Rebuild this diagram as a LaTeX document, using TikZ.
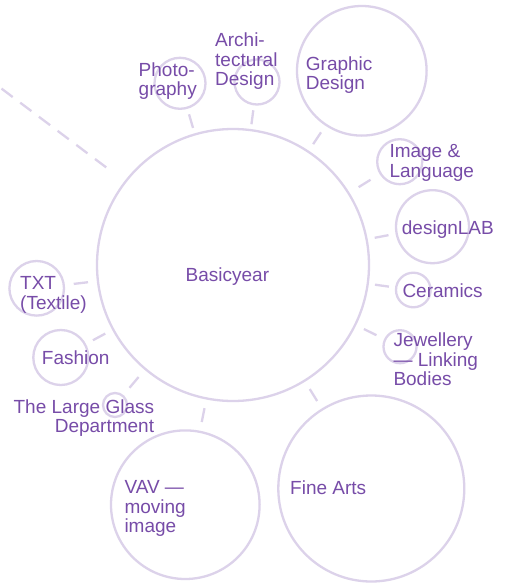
\documentclass[tikz,border=0pt]{standalone}
\usepackage{fontspec}
\setmainfont{Liberation Sans}
\definecolor{ringcol}{HTML}{DCD2EA}
\definecolor{textcol}{HTML}{774CA8}
\begin{document}
\begin{tikzpicture}[x=1pt,y=-1pt,
  bubble/.style={circle,draw=ringcol,line width=2.3pt,inner sep=0,outer sep=0,minimum size=#1},
  lbl/.style={anchor=north west,inner sep=0,align=left,text=textcol,font=\fontsize{19}{19.5}\selectfont},
  spoke/.style={draw=ringcol,line width=2.3pt,shorten <=#1,shorten >=#1}]
  \fill[white] (0,0) rectangle (506,584);
  \useasboundingbox (0,0) rectangle (506,584);

  % Define nodes
  \node (base) [bubble=272pt] at (233,265) {};
  \node (photo) [bubble=51pt] at (180,83.3) {};
  \node (arch) [bubble=45pt] at (257,82) {};
  \node (graphic) [bubble=129.6pt] at (361.8,70.8) {};
  \node (imglang) [bubble=45pt] at (399.7,161.7) {};
  \node (designlab) [bubble=73pt] at (432.5,226.7) {};
  \node (ceramics) [bubble=34.6pt] at (413.3,290) {};
  \node (jewel) [bubble=33pt] at (400,346.7) {};
  \node (finearts) [bubble=186pt] at (371.3,488.5) {};
  \node (vav) [bubble=148.6pt] at (185.3,504.7) {};
  \node (textile) [bubble=54.6pt] at (36.7,288.3) {};
  \node (fashion) [bubble=55pt] at (60.8,357.5) {};
  \node (glass) [bubble=24pt] at (115,405) {};
  \coordinate (fadeA) at (1.5,88.6);
  \coordinate (fadeB) at (107,168);

  % Labels
  \node (baseLabel) [lbl] at (185.5,267.3) {Basicyear};
  \node (photoLabel) [lbl] at (138.5,62.3) {Photo-\\graphy};
  \node (archLabel) [lbl] at (215,32.8) {Archi-\\tectural\\Design};
  \node (graphicLabel) [lbl] at (305.7,56.3) {Graphic\\Design};
  \node (imglangLabel) [lbl] at (389.3,144.3) {Image \&\\Language};
  \node (designlabLabel) [lbl] at (401.7,220.3) {designLAB};
  \node (ceramicsLabel) [lbl] at (402.3,283.8) {Ceramics};
  \node (jewelLabel) [lbl] at (393.3,332.8) {Jewellery\\— Linking\\Bodies};
  \node (fineartsLabel) [lbl] at (290,480.3) {Fine Arts};
  \node (vavLabel) [lbl] at (124.3,480.3) {VAV —\\moving\\image};
  \node (textileLabel) [lbl] at (20,276.3) {TXT\\(Textile)};
  \node (fashionLabel) [lbl] at (41.7,350.3) {Fashion};
  \node (glassLabel) [lbl,anchor=north east,align=right] at (154.3,399.3) {The Large Glass\\Department};

  % Draw edges
  \draw [spoke=6.8pt] (base) -- (photo);
  \draw [spoke=6pt] (base) -- (arch);
  \draw [spoke=9pt] (base) -- (graphic);
  \draw [spoke=11.8pt] (base) -- (imglang);
  \draw [spoke=8.3pt] (base) -- (designlab);
  \draw [spoke=7.3pt] (base) -- (ceramics);
  \draw [spoke=9.7pt] (base) -- (jewel);
  \draw [spoke=9.9pt] (base) -- (finearts);
  \draw [spoke=10pt] (base) -- (vav);
  \draw [spoke=10pt] (base) -- (textile);
  \draw [spoke=9pt] (base) -- (fashion);
  \draw [spoke=10.5pt] (base) -- (glass);
  \draw [ringcol,line width=2.3pt,dash pattern=on 14pt off 9.4pt] (fadeA) -- (fadeB);
\end{tikzpicture}
\end{document}
